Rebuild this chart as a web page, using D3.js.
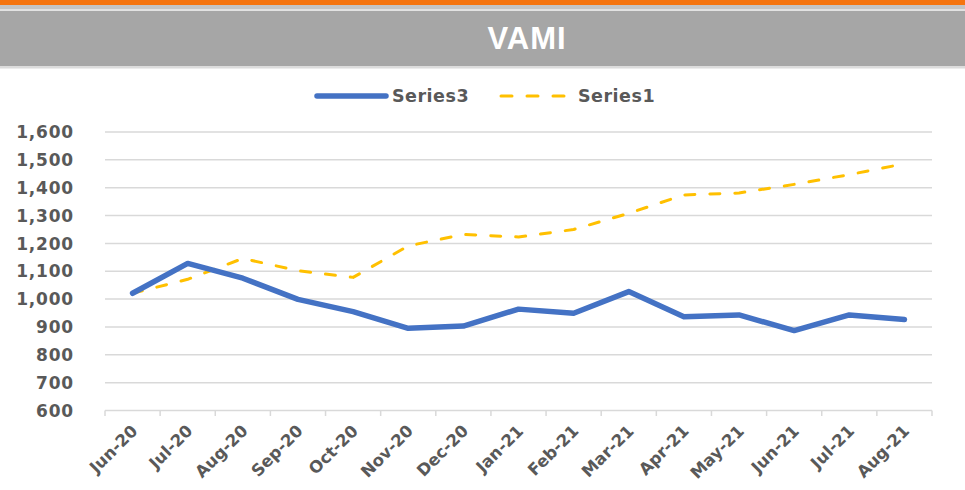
<!DOCTYPE html>
<html><head><meta charset="utf-8">
<script src="https://cdn.jsdelivr.net/npm/d3@7"></script>
<style>html,body{margin:0;padding:0;background:#fff;}svg{display:block;}</style>
</head><body>
<svg id="chart" width="965" height="490"></svg>
<script>
const title = "VAMI";
const categories = ["Jun-20","Jul-20","Aug-20","Sep-20","Oct-20","Nov-20","Dec-20","Jan-21","Feb-21","Mar-21","Apr-21","May-21","Jun-21","Jul-21","Aug-21"];
const series3 = [1021,1128,1075,999,955,895,903,964,949,1027,937,943,887,943,927];
const series1 = [1021,1071,1146,1102,1078,1191,1232,1223,1250,1308,1374,1381,1412,1447,1486];
const yTicks = [600,700,800,900,1000,1100,1200,1300,1400,1500,1600];
const seriesNames = ["Series3","Series1"];

const svg = d3.select("#chart");
const W = 965, H = 490;
const font = "'DejaVu Sans', sans-serif";
const textCol = "#595959";
const gridCol = "#d9d9d9";

// header
svg.append("rect").attr("x",0).attr("y",0).attr("width",W).attr("height",5).attr("fill","#f5740f");
svg.append("rect").attr("x",0).attr("y",5).attr("width",W).attr("height",4.5).attr("fill","#c4c4c4");
svg.append("rect").attr("x",0).attr("y",9.5).attr("width",W).attr("height",1.5).attr("fill","#e2e2e2");
svg.append("rect").attr("x",0).attr("y",11).attr("width",W).attr("height",55).attr("fill","#a6a6a6");
svg.append("rect").attr("x",0).attr("y",66).attr("width",W).attr("height",2.5).attr("fill","#dcdcdc");
svg.append("text").attr("x",527).attr("y",48.5).attr("text-anchor","middle")
  .attr("font-family","'Liberation Sans', Arial, sans-serif").attr("font-weight","bold")
  .attr("font-size",31).attr("letter-spacing",1).attr("fill","#fff").text(title);

// scales
const x = d3.scaleBand().domain(categories).range([105, 932]).padding(0);
const xc = d => x(d) + x.bandwidth()/2;
const y = d3.scaleLinear().domain([600,1600]).range([410.5,132]);

// gridlines
svg.append("g").selectAll("line").data(yTicks).join("line")
  .attr("x1",105).attr("x2",932).attr("y1",d=>y(d)).attr("y2",d=>y(d))
  .attr("stroke",gridCol).attr("stroke-width",1.5);

// y labels
svg.append("g").selectAll("text").data(yTicks).join("text")
  .attr("x",74).attr("y",d=>y(d)).attr("dy","0.36em").attr("text-anchor","end")
  .attr("font-family",font).attr("font-weight","bold").attr("font-size",17)
  .attr("letter-spacing",0.8)
  .attr("fill",textCol).text(d3.format(","));

// x axis ticks
const tickPos = categories.map(c => x(c)).concat([x(categories[categories.length-1]) + x.bandwidth()]);
svg.append("g").selectAll("line").data(tickPos).join("line")
  .attr("x1",d=>d).attr("x2",d=>d).attr("y1",410.5).attr("y2",416)
  .attr("stroke",gridCol).attr("stroke-width",1.5);

// x labels
svg.append("g").selectAll("text").data(categories).join("text")
  .attr("transform", d => `translate(${xc(d)+6},${432}) rotate(-45)`)
  .attr("text-anchor","end")
  .attr("font-family",font).attr("font-weight","bold").attr("font-size",16.5)
  .attr("fill",textCol).text(d=>d);

// lines
const line = d3.line().x((d,i)=>xc(categories[i])).y(d=>y(d));
svg.append("path").datum(series1).attr("d",line).attr("fill","none")
  .attr("stroke","#ffc000").attr("stroke-width",3).attr("stroke-dasharray","10,15")
  .attr("stroke-linecap","round").attr("stroke-linejoin","round");
svg.append("path").datum(series3).attr("d",line).attr("fill","none")
  .attr("stroke","#4472c4").attr("stroke-width",5.5)
  .attr("stroke-linecap","round").attr("stroke-linejoin","round");

// legend
const lg = svg.append("g").attr("font-family",font).attr("font-weight","bold").attr("font-size",17.5).attr("fill",textCol);
lg.append("line").attr("x1",317).attr("x2",386).attr("y1",96).attr("y2",96)
  .attr("stroke","#4472c4").attr("stroke-width",5.5).attr("stroke-linecap","round");
lg.append("text").attr("x",392).attr("y",96).attr("dy","0.36em").attr("letter-spacing",0.5).text(seriesNames[0]);
lg.append("line").attr("x1",501).attr("x2",568).attr("y1",96).attr("y2",96)
  .attr("stroke","#ffc000").attr("stroke-width",3).attr("stroke-dasharray","11,15")
  .attr("stroke-linecap","round");
lg.append("text").attr("x",578).attr("y",96).attr("dy","0.36em").attr("letter-spacing",0.5).text(seriesNames[1]);
</script>
</body></html>
